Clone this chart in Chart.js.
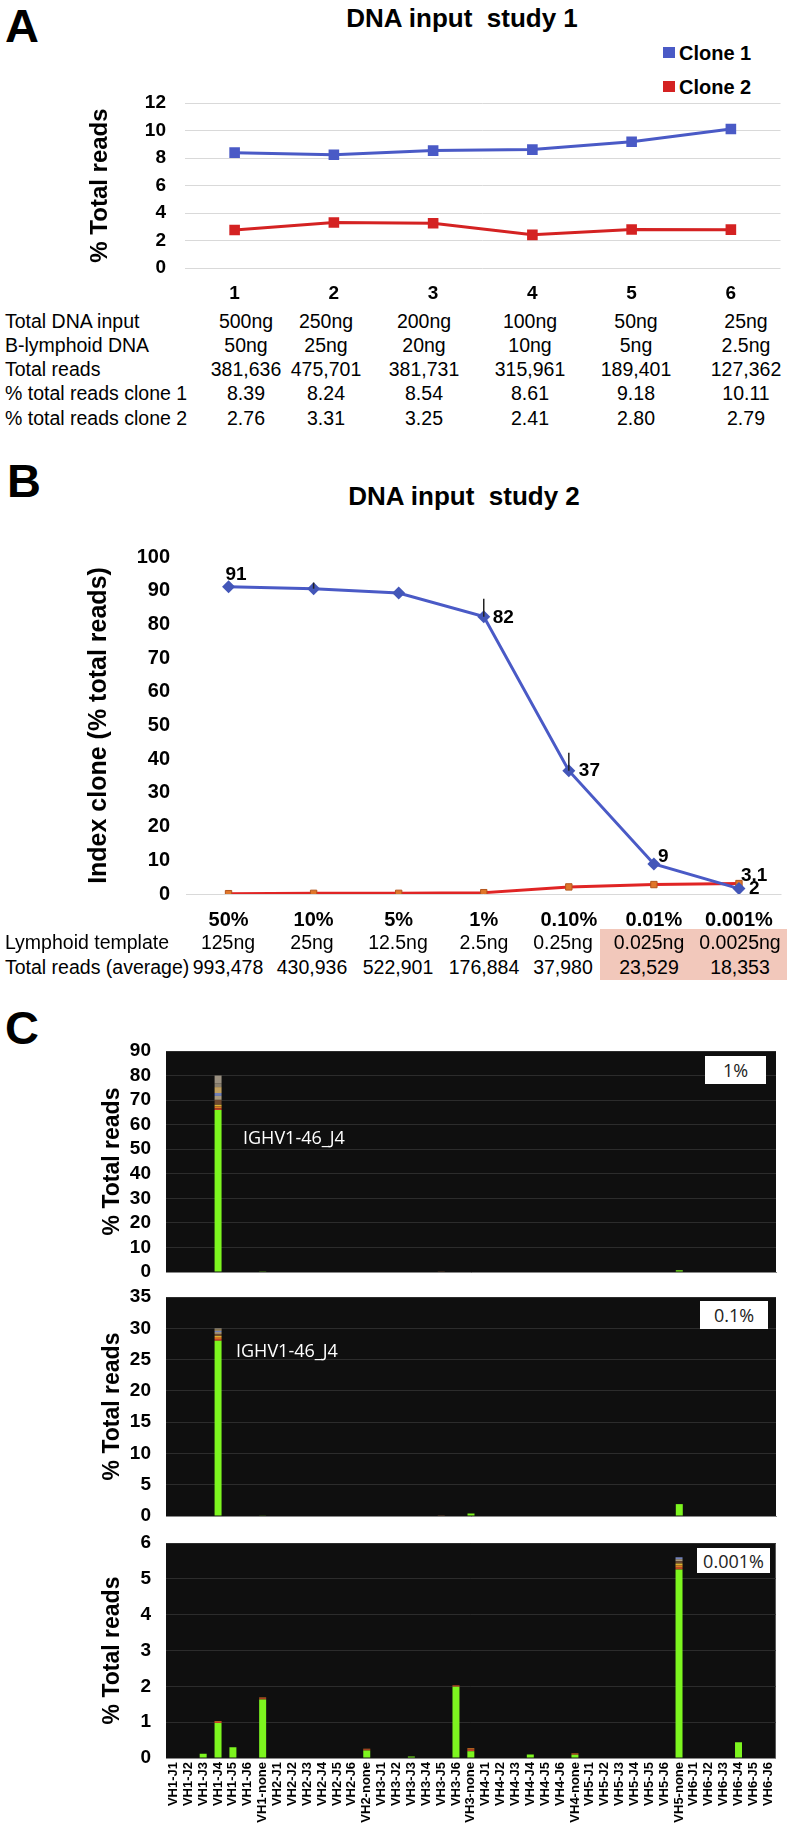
<!DOCTYPE html>
<html lang="en">
<head>
<meta charset="UTF-8">
<title>DNA input studies</title>
<script src="https://cdn.jsdelivr.net/npm/chart.js"></script>
<style>
  body { margin: 0; background: #fff; color: #000; font-family: "Liberation Sans", Arial, sans-serif; }
  #page { position: relative; width: 788px; height: 1825px; overflow: hidden; }
  canvas { position: absolute; }
  .t { position: absolute; white-space: pre; line-height: 1; }
  .panel { font-weight: bold; font-size: 47px; }
  .title { font-weight: bold; font-size: 26px; transform: translate(-50%, -50%); }
  .cell { font-size: 19.5px; transform: translate(-50%, -50%); }
  .rowlab { font-size: 19.5px; transform: translateY(-50%); left: 5px; }
  .legend { font-weight: bold; font-size: 20px; transform: translateY(-50%); left: 679px; }
  .swatch { position: absolute; width: 12px; height: 11px; }
  .tag { position: absolute; background: #fff; font-family: "Open Sans", sans-serif; font-size: 18px;
         color: #222; display: flex; align-items: center; justify-content: center; }
  .annot { font-family: "Open Sans", sans-serif; font-size: 18px; color: #fff; transform: translateY(-50%); }
  .pink { position: absolute; background: #f2c8bb; }
</style>
</head>
<body>
<div id="page">
  <!-- panel A -->
  <div class="t panel" style="left:5px; top:2px;">A</div>
  <div class="t title" style="left:462px; top:18px;">DNA input  study 1</div>
  <div class="swatch" style="left:663px; top:47px; background:#4a5ac6;"></div>
  <div class="t legend" style="top:53px;">Clone 1</div>
  <div class="swatch" style="left:663px; top:81px; background:#d42222;"></div>
  <div class="t legend" style="top:87px;">Clone 2</div>
  <canvas id="chartA" width="706" height="221" style="left:82px; top:87px;"></canvas>
  <div id="tableA"></div>

  <!-- panel B -->
  <div class="t panel" style="left:7px; top:457px;">B</div>
  <div class="t title" style="left:464px; top:496px;">DNA input  study 2</div>
  <div class="pink" style="left:600px; top:929px; width:187px; height:51px;"></div>
  <canvas id="chartB" width="708" height="393" style="left:80px; top:541px;"></canvas>
  <div id="tableB"></div>

  <!-- panel C -->
  <div class="t panel" style="left:5px; top:1004px;">C</div>
  <canvas id="chartC1" width="693" height="253" style="left:95px; top:1035px;"></canvas>
  <canvas id="chartC2" width="693" height="251" style="left:95px; top:1281px;"></canvas>
  <canvas id="chartC3" width="693" height="298" style="left:95px; top:1527px;"></canvas>
  <div class="tag" style="left:705px; top:1056px; width:61px; height:28px;">1%</div>
  <div class="tag" style="left:700px; top:1301px; width:68px; height:28px;">0.1%</div>
  <div class="tag" style="left:697px; top:1548px; width:73px; height:25px;">0.001%</div>
  <div class="t annot" style="left:243px; top:1137px;">IGHV1-46_J4</div>
  <div class="t annot" style="left:236px; top:1350px;">IGHV1-46_J4</div>
</div>

<script>
// ---- panel A data
const aCats = ['1', '2', '3', '4', '5', '6'];
const clone1 = [8.39, 8.24, 8.54, 8.61, 9.18, 10.11];
const clone2 = [2.76, 3.31, 3.25, 2.41, 2.80, 2.79];
const aRowLabels = ['Total DNA input', 'B-lymphoid DNA', 'Total reads', '% total reads clone 1', '% total reads clone 2'];
const aTotalDNA = ['500ng', '250ng', '200ng', '100ng', '50ng', '25ng'];
const aBLymphoid = ['50ng', '25ng', '20ng', '10ng', '5ng', '2.5ng'];
const aReads = ['381,636', '475,701', '381,731', '315,961', '189,401', '127,362'];

// ---- panel B data
const bCats = ['50%', '10%', '5%', '1%', '0.10%', '0.01%', '0.001%'];
const bIndex = [91.2, 90.6, 89.3, 82.3, 36.6, 8.9, 1.6];
const bIndexErr = [0, 1.8, 0, 5.3, 5.3, 0, 0];
const bIndexLabels = ['91', '', '', '82', '37', '9', '2'];
const bClone2 = [0.1, 0.2, 0.2, 0.4, 2.1, 2.8, 3.1];
const bClone2Labels = ['', '', '', '', '', '', '3.1'];
const bRowLabels = ['Lymphoid template', 'Total reads (average)'];
const bTemplate = ['125ng', '25ng', '12.5ng', '2.5ng', '0.25ng', '0.025ng', '0.0025ng'];
const bReads = ['993,478', '430,936', '522,901', '176,884', '37,980', '23,529', '18,353'];

// ---- panel C data
const vhCats = [
  'VH1-J1', 'VH1-J2', 'VH1-J3', 'VH1-J4', 'VH1-J5', 'VH1-J6', 'VH1-none',
  'VH2-J1', 'VH2-J2', 'VH2-J3', 'VH2-J4', 'VH2-J5', 'VH2-J6', 'VH2-none',
  'VH3-J1', 'VH3-J2', 'VH3-J3', 'VH3-J4', 'VH3-J5', 'VH3-J6', 'VH3-none',
  'VH4-J1', 'VH4-J2', 'VH4-J3', 'VH4-J4', 'VH4-J5', 'VH4-J6', 'VH4-none',
  'VH5-J1', 'VH5-J2', 'VH5-J3', 'VH5-J4', 'VH5-J5', 'VH5-J6', 'VH5-none',
  'VH6-J1', 'VH6-J2', 'VH6-J3', 'VH6-J4', 'VH6-J5', 'VH6-J6'
];
const c1Green = [
  0, 0, 0, 66, 0, 0, 0.3,
  0, 0, 0, 0, 0, 0, 0,
  0, 0, 0, 0, 0, 0, 0,
  0, 0, 0, 0, 0, 0, 0,
  0, 0, 0, 0, 0, 0, 0.7,
  0, 0, 0, 0, 0, 0
];
const c2Green = [
  0, 0, 0, 28.0, 0, 0, 0.1,
  0, 0, 0, 0, 0, 0, 0,
  0, 0, 0, 0, 0, 0, 0.4,
  0, 0, 0, 0, 0, 0, 0,
  0, 0, 0, 0, 0, 0, 1.9,
  0, 0, 0, 0, 0, 0
];
const c3Green = [
  0, 0, 0.12, 0.98, 0.30, 0, 1.63,
  0, 0, 0, 0, 0, 0, 0.21,
  0, 0, 0.04, 0, 0, 1.99, 0.19,
  0, 0, 0, 0.10, 0, 0, 0.09,
  0, 0, 0, 0, 0, 0, 5.26,
  0, 0, 0, 0.44, 0, 0
];
// minor clones stacked above the main (green) clone, bottom to top
const c1CapCats = ['VH1-J4', 'VH3-J5'];
const c1Caps = [[0.6, 0.8, 0.7, 2.0, 1.6, 1.2, 2.4, 1.6, 3.1], [0, 0, 0, 0.35]];
const c2CapCats = ['VH1-J4', 'VH3-J5'];
const c2Caps = [[0.3, 0.3, 0.2, 0.3, 0.3, 0.2, 0.2, 0.1, 0.1], [0, 0, 0, 0.15]];
const c3CapCats = ['VH1-J4', 'VH1-none', 'VH2-none', 'VH3-J6', 'VH3-none', 'VH4-none', 'VH5-none'];
const c3Caps = [[0.03, 0.02], [0.04, 0.02], [0.03, 0.02], [0.03, 0.01], [0.05, 0.03], [0.03, 0.01],
                [0.05, 0.06, 0.06, 0.06, 0.06, 0.05]];

const FONT = '"Liberation Sans", Arial, sans-serif';
Chart.defaults.font.family = FONT;
Chart.defaults.color = '#000';
Chart.defaults.animation = false;

const BLUE = '#4a5ac6';
const RED = '#d42222';
const GREEN = '#7df51f';
const capColors = ['#c8402a', '#e07a22', '#d9b233', '#6e4a30', '#a89a7e', '#7080b8', '#c0a060', '#8a8070', '#9a9080'];

// y axis: fixed width, and do not let the label padding push the plot down
function fitY(width) {
  return s => { s.width = width; s.paddingTop = 8; s.paddingBottom = 8; };
}

// ---- html tables under A and B
function writeTable(id, rowLabels, rows, colX, rowY) {
  let html = '';
  rowLabels.forEach((lab, r) => {
    html += `<div class="t rowlab" style="top:${rowY[r]}px;">${lab}</div>`;
    rows[r].forEach((v, c) => {
      html += `<div class="t cell" style="left:${colX[c]}px; top:${rowY[r]}px;">${v}</div>`;
    });
  });
  document.getElementById(id).innerHTML = html;
}
writeTable('tableA', aRowLabels,
  [aTotalDNA, aBLymphoid, aReads, clone1.map(v => v.toFixed(2)), clone2.map(v => v.toFixed(2))],
  [246, 326, 424, 530, 636, 746], [322, 346, 370, 394, 419]);
writeTable('tableB', bRowLabels, [bTemplate, bReads],
  [228, 312, 398, 484, 563, 649, 740], [943, 968]);

// ---- plugins
const errorBars = {
  id: 'errorBars',
  afterDatasetsDraw(chart) {
    const ctx = chart.ctx;
    const y = chart.scales.y;
    ctx.save();
    ctx.strokeStyle = '#222';
    ctx.lineWidth = 1.5;
    chart.data.datasets.forEach((ds, di) => {
      if (!ds.errUp) return;
      chart.getDatasetMeta(di).data.forEach((pt, i) => {
        if (!ds.errUp[i]) return;
        ctx.beginPath();
        ctx.moveTo(pt.x, pt.y);
        ctx.lineTo(pt.x, y.getPixelForValue(ds.data[i] + ds.errUp[i]));
        ctx.stroke();
      });
    });
    ctx.restore();
  }
};

const pointLabels = {
  id: 'pointLabels',
  afterDatasetsDraw(chart) {
    const ctx = chart.ctx;
    ctx.save();
    ctx.font = 'bold 19px ' + FONT;
    ctx.fillStyle = '#000';
    ctx.textBaseline = 'middle';
    chart.data.datasets.forEach((ds, di) => {
      if (!ds.pointLabels) return;
      chart.getDatasetMeta(di).data.forEach((pt, i) => {
        const txt = ds.pointLabels[i];
        if (!txt) return;
        const off = ds.labelOffsets[i];
        ctx.fillText(txt, pt.x + off[0], pt.y + off[1]);
      });
    });
    ctx.restore();
  }
};

const darkArea = {
  id: 'darkArea',
  beforeDraw(chart) {
    const a = chart.chartArea;
    chart.ctx.save();
    chart.ctx.fillStyle = '#0f0f0f';
    chart.ctx.fillRect(a.left, a.top, a.right - a.left, a.bottom - a.top);
    chart.ctx.restore();
  }
};

// ---- chart A
new Chart(document.getElementById('chartA'), {
  type: 'line',
  data: {
    labels: aCats,
    datasets: [
      { label: 'Clone 1', data: clone1, borderColor: BLUE, backgroundColor: BLUE, borderWidth: 3,
        pointStyle: 'rect', pointRadius: 7.5, pointBorderWidth: 0 },
      { label: 'Clone 2', data: clone2, borderColor: RED, backgroundColor: RED, borderWidth: 3,
        pointStyle: 'rect', pointRadius: 7.5, pointBorderWidth: 0 }
    ]
  },
  options: {
    responsive: false,
    layout: { padding: { top: 16, right: 0, bottom: 0, left: 0 } },
    plugins: { legend: { display: false }, tooltip: { enabled: false } },
    scales: {
      x: {
        offset: true,
        grid: { display: false, drawTicks: false },
        border: { display: false },
        ticks: { font: { size: 19, weight: 'bold' }, padding: 14 },
        afterFit: s => { s.height = 40; }
      },
      y: {
        min: 0, max: 12,
        ticks: { stepSize: 2, autoSkip: false, font: { size: 19, weight: 'bold' }, padding: 19 },
        grid: { color: '#d9d9d9', drawTicks: false },
        border: { display: false },
        title: { display: true, text: '% Total reads', font: { size: 24, weight: 'bold' }, padding: { top: 4, bottom: 4 } },
        afterFit: fitY(103)
      }
    }
  }
});

// ---- chart B
new Chart(document.getElementById('chartB'), {
  type: 'line',
  data: {
    labels: bCats,
    datasets: [
      { label: 'Index clone', data: bIndex, errUp: bIndexErr, pointLabels: bIndexLabels,
        labelOffsets: [[-3, -12], [0, 0], [0, 0], [9, 1], [10, 0], [4, -7], [10, 0]],
        borderColor: BLUE, backgroundColor: '#4356b8', borderWidth: 3,
        pointStyle: 'rectRot', pointRadius: 6.5, pointBorderWidth: 0 },
      { label: 'Clone 2', data: bClone2, pointLabels: bClone2Labels,
        labelOffsets: [[0, 0], [0, 0], [0, 0], [0, 0], [0, 0], [0, 0], [2, -8]],
        borderColor: '#e02424', backgroundColor: '#e0762a', borderWidth: 3,
        pointStyle: 'rect', pointRadius: 4.5, pointBorderWidth: 1, pointBorderColor: '#b4561c' }
    ]
  },
  options: {
    responsive: false,
    layout: { padding: { top: 16, right: 4, bottom: 0, left: 0 } },
    plugins: { legend: { display: false }, tooltip: { enabled: false } },
    scales: {
      x: {
        offset: true,
        grid: { display: false, drawTicks: false },
        border: { display: false },
        ticks: { font: { size: 20, weight: 'bold' }, padding: 14 },
        afterFit: s => { s.height = 40; }
      },
      y: {
        min: 0, max: 100,
        ticks: { stepSize: 10, autoSkip: false, font: { size: 20, weight: 'bold' }, padding: 16 },
        grid: { color: c => (c.tick && c.tick.value === 0 ? '#d9d9d9' : 'rgba(0,0,0,0)'), drawTicks: false },
        border: { display: false },
        title: { display: true, text: 'Index clone (% total reads)', font: { size: 25, weight: 'bold' }, padding: { top: 4, bottom: 4 } },
        afterFit: fitY(106)
      }
    }
  },
  plugins: [errorBars, pointLabels]
});

// ---- panel C charts
function capDatasets(capCats, caps) {
  const n = Math.max(...caps.map(c => c.length));
  const sets = [];
  for (let k = 0; k < n; k++) {
    const data = vhCats.map(() => 0);
    capCats.forEach((cat, j) => { data[vhCats.indexOf(cat)] = caps[j][k] || 0; });
    sets.push({ data, backgroundColor: capColors[k], barPercentage: 0.47, categoryPercentage: 1 });
  }
  return sets;
}

function vhChart(id, greens, capCats, caps, max, step, showLabels) {
  new Chart(document.getElementById(id), {
    type: 'bar',
    data: {
      labels: vhCats,
      datasets: [{ data: greens, backgroundColor: GREEN, barPercentage: 0.47, categoryPercentage: 1 }]
        .concat(capDatasets(capCats, caps))
    },
    options: {
      responsive: false,
      layout: { padding: { top: 16, right: 12, bottom: showLabels ? 0 : 16, left: 0 } },
      plugins: { legend: { display: false }, tooltip: { enabled: false } },
      scales: {
        x: {
          stacked: true,
          grid: { display: false, drawTicks: false },
          border: { color: '#888' },
          ticks: { display: showLabels, autoSkip: false, minRotation: 90, maxRotation: 90,
                   font: { size: 13, weight: 'bold' }, padding: 4 },
          afterFit: s => { s.height = showLabels ? 67 : 0; }
        },
        y: {
          stacked: true,
          min: 0, max: max,
          ticks: { stepSize: step, autoSkip: false, font: { size: 19, weight: 'bold' }, padding: 15 },
          grid: { color: '#2c2c2c', drawTicks: false },
          border: { display: false },
          title: { display: true, text: '% Total reads', font: { size: 23, weight: 'bold' }, padding: { top: 4, bottom: 4 } },
          afterFit: fitY(71)
        }
      }
    },
    plugins: [darkArea]
  });
}

vhChart('chartC1', c1Green, c1CapCats, c1Caps, 90, 10, false);
vhChart('chartC2', c2Green, c2CapCats, c2Caps, 35, 5, false);
vhChart('chartC3', c3Green, c3CapCats, c3Caps, 6, 1, true);
</script>
</body>
</html>
